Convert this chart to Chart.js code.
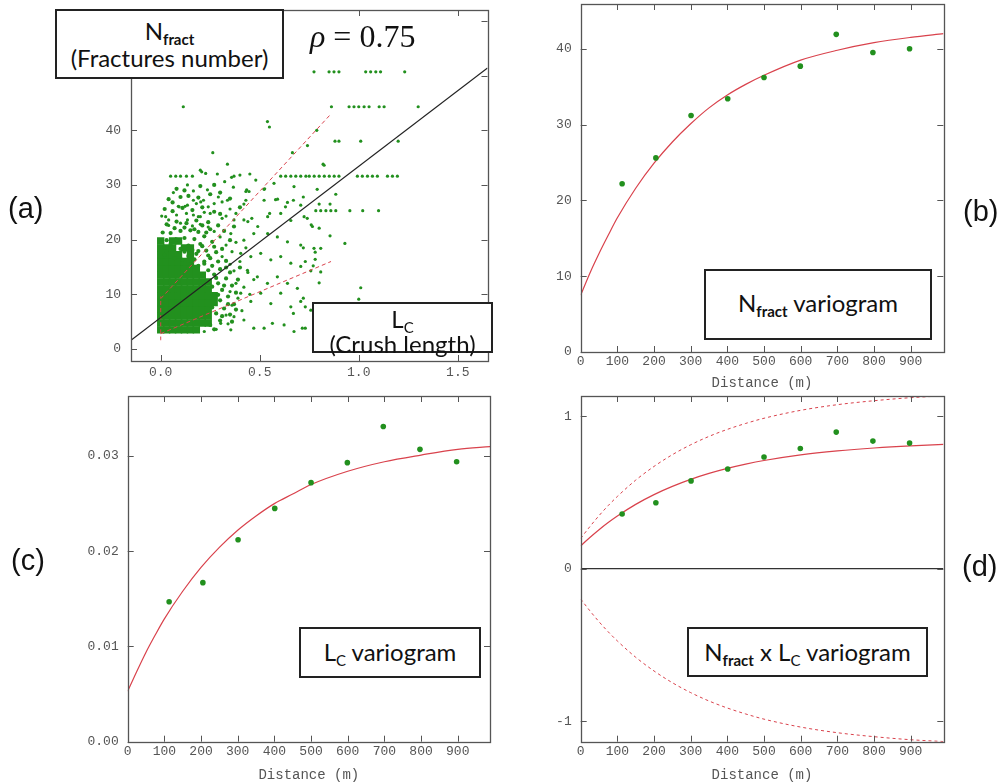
<!DOCTYPE html>
<html>
<head>
<meta charset="utf-8">
<script src="https://cdn.jsdelivr.net/npm/chart.js@4.4.1/dist/chart.umd.min.js"></script>
<style>
  body { margin: 0; background: #fff; }
  #page { position: relative; width: 1000px; height: 784px; overflow: hidden; }
  canvas { position: absolute; }
  .box {
    position: absolute; box-sizing: border-box; background: #fff;
    border: 2px solid #222; font-family: Lato, "Open Sans", sans-serif;
    color: #111; text-align: center; font-size: 24px;
  }
  .box sub { font-size: 15px; vertical-align: -5px; line-height: 0; }
  .box sub.b { font-weight: bold; }
  .tag { position: absolute; font-family: "Liberation Sans", Arial, sans-serif; font-size: 29px; color: #111; }
  .rho { position: absolute; font-family: "Liberation Serif", serif; font-size: 32px; color: #111; }
</style>
</head>
<body>
<div id="page">
  <canvas id="pa" width="500" height="392" style="left:0;top:0"></canvas>
  <canvas id="pb" width="500" height="392" style="left:500px;top:0"></canvas>
  <canvas id="pc" width="500" height="392" style="left:0;top:392px"></canvas>
  <canvas id="pd" width="500" height="392" style="left:500px;top:392px"></canvas>

  <div class="box" style="left:55px;top:9px;width:229px;height:70px;line-height:27px;padding-top:6px">
    N<sub class="b">fract</sub><br>(Fractures number)
  </div>
  <div class="rho" style="left:310px;top:18px"><i>ρ</i> = 0.75</div>
  <div class="box" style="left:312px;top:302px;width:181px;height:51px;line-height:25px;padding-top:2px">
    L<sub>C</sub><br>(Crush length)
  </div>
  <div class="box" style="left:704px;top:269px;width:228px;height:71px;line-height:64px">
    N<sub class="b">fract</sub> variogram
  </div>
  <div class="box" style="left:299px;top:627px;width:182px;height:51px;line-height:46px">
    L<sub>C</sub> variogram
  </div>
  <div class="box" style="left:687px;top:627px;width:241px;height:50px;line-height:45px">
    N<sub class="b">fract</sub> x L<sub>C</sub> variogram
  </div>

  <div class="tag" style="left:8px;top:192px">(a)</div>
  <div class="tag" style="left:963px;top:195px">(b)</div>
  <div class="tag" style="left:11px;top:544px">(c)</div>
  <div class="tag" style="left:962px;top:550px">(d)</div>
</div>

<script>
// ---- (a) N_fract vs L_C scatter ----
const xTicksA = [0, 0.5, 1, 1.5];
const yTicksA = [0, 10, 20, 30, 40, 50, 60];

// solid core of the cloud, one row of x values per N value
const coreY = [3.5, 4.75, 6, 7.25, 8.5, 9.75, 11, 12.25, 13.5, 14.75, 16, 17.25, 18.5, 19.75];
const coreX = [
  [0, 0.03, 0.06, 0.09, 0.12, 0.15, 0.18],
  [0, 0.03, 0.06, 0.09, 0.12, 0.15, 0.18, 0.21, 0.24],
  [0, 0.03, 0.06, 0.09, 0.12, 0.15, 0.18, 0.21, 0.24],
  [0, 0.03, 0.06, 0.09, 0.12, 0.15, 0.18, 0.21, 0.24],
  [0, 0.03, 0.06, 0.09, 0.12, 0.15, 0.18, 0.21, 0.24, 0.27],
  [0, 0.03, 0.06, 0.09, 0.12, 0.15, 0.18, 0.21, 0.24, 0.27],
  [0, 0.03, 0.06, 0.09, 0.12, 0.15, 0.18, 0.21, 0.24],
  [0, 0.03, 0.06, 0.09, 0.12, 0.15, 0.18, 0.21, 0.24],
  [0, 0.03, 0.06, 0.09, 0.12, 0.15, 0.18, 0.21],
  [0, 0.03, 0.06, 0.09, 0.12, 0.15, 0.18],
  [0, 0.03, 0.06, 0.09, 0.12, 0.15],
  [0, 0.03, 0.06, 0.09, 0.15],
  [0, 0.03, 0.06, 0.12, 0.15],
  [0, 0.06, 0.09]
];

// speckled zone around the core
const midA = [
  [0.27, 3.6], [0.3, 5.2], [0.28, 6.5], [0.32, 7.4], [0.3, 8.9], [0.34, 9.6], [0.31, 10.8], [0.36, 11.6],
  [0.29, 12.0], [0.33, 12.9], [0.27, 13.6], [0.3, 14.6], [0.35, 14.0], [0.38, 10.3], [0.37, 8.2], [0.35, 6.3],
  [0.39, 12.7], [0.26, 15.2], [0.4, 14.9], [0.33, 16.1], [0.24, 14.4], [0.22, 15.6],
  [0.15, 15.5], [0.19, 15.2], [0.22, 16.0], [0.25, 16.6], [0.14, 17.0], [0.18, 17.4], [0.23, 18.0], [0.28, 17.7],
  [0.02, 18.5], [0.06, 18.6], [0.1, 18.3], [0.14, 18.9], [0.2, 19.2], [0.26, 19.6], [0.03, 19.9], [0.08, 20.0],
  [0.12, 20.3], [0.17, 20.1], [0.22, 20.6], [0.01, 21.3], [0.05, 21.2], [0.1, 21.6], [0.15, 21.7], [0.19, 21.4],
  [0.25, 21.9], [0.03, 22.8], [0.08, 23.3], [0.13, 23.0], [0.18, 23.5], [0.24, 23.2], [0.29, 22.6], [0.02, 17.2],
  [0.07, 16.6], [0.11, 16.3], [0.16, 18.1], [0.12, 17.8], [0.05, 19.2],
  [0.02, 25.6], [0.06, 25.2], [0.11, 25.8], [0.16, 25.4], [0.21, 25.9], [0.27, 25.1], [0.04, 27.4], [0.1, 27.8],
  [0.14, 28.0], [0.19, 27.7], [0.25, 28.3], [0.3, 28.6], [0.08, 29.3], [0.12, 29.0], [0.2, 29.8], [0.27, 30.0],
  [0.25, 4.4], [0.26, 7.6], [0.29, 9.9], [0.26, 11.4], [0.28, 13.0], [0.32, 11.6], [0.34, 8.2], [0.31, 6.0],
  [0.36, 5.0], [0.38, 7.2], [0.33, 14.9], [0.29, 16.0], [0.24, 17.1], [0.27, 18.7], [0.21, 18.8], [0.19, 17.9],
  [0.17, 16.4], [0.31, 18.3], [0.35, 19.9], [0.23, 21.3], [0.07, 22.1], [0.12, 22.2], [0.17, 21.9], [0.21, 22.6],
  [0.32, 21.6], [0.37, 22.4], [0.3, 24.7], [0.35, 27.5], [0.4, 25.9], [0.06, 26.8]
];

// scattered samples further out
const scatterA = [
  [0.774, 50.7], [0.85, 50.7], [0.875, 50.7], [0.9, 50.7], [1.035, 50.7], [1.06, 50.7], [1.086, 50.7], [1.11, 50.7], [1.232, 50.7],
  [0.114, 44.3], [0.862, 44.3], [0.951, 44.3], [0.976, 44.3], [1.0, 44.3], [1.027, 44.3], [1.052, 44.3], [1.103, 44.3], [1.128, 44.3], [1.3, 44.3],
  [0.539, 41.6], [0.549, 40.6], [0.788, 40.0], [0.88, 38.0], [0.9, 38.0], [1.01, 38.0], [1.199, 38.0],
  [0.741, 37.2], [0.263, 35.9], [0.665, 35.9], [0.337, 33.8], [0.82, 33.8], [0.825, 33.6],
  [0.05, 31.6], [0.076, 31.6], [0.1, 31.6], [0.13, 31.6], [0.16, 31.6], [0.606, 31.6], [0.631, 31.6], [0.657, 31.6],
  [0.682, 31.6], [0.707, 31.6], [0.733, 31.6], [0.75, 31.6], [0.775, 31.6], [0.8, 31.6], [0.826, 31.6], [0.851, 31.6],
  [0.876, 31.6], [0.9, 31.6], [0.993, 31.6], [1.018, 31.6], [1.044, 31.6], [1.069, 31.6], [1.094, 31.6], [1.145, 31.6],
  [1.17, 31.6], [1.195, 31.6],
  [0.064, 28.6], [0.135, 30.0], [0.236, 29.1], [0.323, 30.6], [0.43, 28.8], [0.446, 28.8], [0.522, 29.2], [0.572, 30.3],
  [0.673, 29.7], [0.79, 29.2], [0.884, 28.3], [0.2, 32.7], [0.227, 32.1], [0.286, 32.0], [0.37, 31.6], [0.4, 31.8],
  [0.45, 32.0], [0.48, 30.9], [0.207, 32.4], [0.165, 28.9], [0.367, 29.6], [0.358, 31.4], [0.165, 27.2], [0.216, 27.2],
  [0.291, 27.8], [0.434, 29.1], [0.525, 29.3],
  [0.093, 26.0], [0.135, 26.3], [0.202, 26.9], [0.27, 26.6], [0.337, 27.2], [0.42, 26.5], [0.522, 27.2], [0.59, 27.4],
  [0.64, 26.8], [0.707, 26.3], [0.8, 26.5], [0.855, 26.5], [0.783, 25.3], [0.808, 25.3], [0.834, 25.3], [0.859, 25.3],
  [0.884, 25.3], [0.955, 25.3], [1.02, 25.3], [1.1, 25.3], [0.089, 26.1], [0.123, 26.1], [0.18, 26.6], [0.24, 26.0],
  [0.31, 26.9], [0.35, 25.6], [0.43, 27.2], [0.58, 27.3], [0.63, 26.0], [0.67, 27.2], [0.72, 27.8],
  [0.025, 24.2], [0.135, 23.6], [0.2, 24.2], [0.25, 24.8], [0.31, 23.9], [0.37, 23.6], [0.44, 23.3], [0.49, 22.4],
  [0.54, 24.2], [0.606, 24.8], [0.657, 23.5], [0.724, 24.2], [0.766, 22.4], [0.8, 22.1], [0.855, 20.7], [0.93, 19.3],
  [0.354, 21.1], [0.42, 19.9], [0.47, 21.1], [0.54, 21.1], [0.589, 20.5], [0.64, 19.6], [0.707, 19.0], [0.774, 18.4],
  [0.808, 18.4], [0.005, 24.3], [0.04, 23.6], [0.08, 24.5], [0.13, 24.8], [0.165, 24.5], [0.19, 24.2], [0.22, 25.0],
  [0.33, 24.3], [0.38, 24.8], [0.42, 23.6], [0.46, 23.9], [0.55, 24.8], [0.74, 23.9], [0.76, 22.7], [0.72, 18.5], [0.78, 17.7],
  [0.404, 17.5], [0.455, 16.9], [0.505, 17.5], [0.556, 16.3], [0.606, 16.9], [0.657, 15.7], [0.707, 15.1], [0.758, 14.3],
  [0.808, 14.1], [0.438, 14.4], [0.488, 13.2], [0.539, 12.0], [0.589, 13.2], [0.64, 12.0], [0.69, 11.1], [0.8, 12.1],
  [1.01, 11.2], [0.73, 16.0], [0.78, 16.4], [0.77, 15.2],
  [0.404, 10.2], [0.455, 8.7], [0.505, 10.2], [0.556, 8.3], [0.606, 10.2], [0.657, 7.7], [0.707, 8.7], [0.758, 7.1],
  [0.37, 5.9], [0.42, 5.3], [0.47, 3.8], [0.522, 3.8], [0.564, 4.7], [0.623, 4.4], [0.673, 3.2], [0.715, 3.8],
  [0.67, 6.5], [0.354, 3.5], [0.303, 4.7], [1.0, 9.1], [0.72, 9.3], [0.73, 7.7], [0.73, 3.8],
  [0.33, 6.2], [0.36, 8.0], [0.35, 10.5], [0.38, 12.0], [0.37, 14.3], [0.4, 16.0], [0.36, 17.8], [0.33, 19.0],
  [0.3, 20.5], [0.27, 21.5], [0.24, 22.3], [0.39, 9.3], [0.42, 11.3], [0.41, 7.0], [0.34, 4.6], [0.28, 3.6],
  [0.22, 3.2], [0.45, 10.0], [0.44, 14.0], [0.47, 12.7], [0.31, 16.9], [0.35, 15.5], [0.38, 19.5], [0.43, 18.5],
  [0.2, 22.8], [0.16, 22.5], [0.1, 23.0], [0.04, 22.6]
];

const fitA = [[-0.15, 1.6], [1.65, 51.4]];
const bandUpA = [[0, 9.2], [0.86, 43.0]];
const bandLowA = [[0, 2.8], [0.86, 16.0]];
const bandEdgeA = [[0, 1.6], [0, 9.6]];

// ---- variograms (b, c, d) ----
const xTicksV = [0, 100, 200, 300, 400, 500, 600, 700, 800, 900];
const yTicksB = [0, 10, 20, 30, 40];
const yTicksC = [0, 0.01, 0.02, 0.03];
const yTicksD = [-1, 0, 1];

const lags = [113, 205, 301, 401, 500, 599, 697, 797, 897];
const nfractGamma = [22.2, 25.6, 31.2, 33.4, 36.2, 37.7, 41.9, 39.5, 40.0];
const lcGamma = [0.0147, 0.0167, 0.0212, 0.0245, 0.0272, 0.0293, 0.0331, 0.0307, 0.0294];
const crossGamma = [0.359, 0.433, 0.576, 0.654, 0.733, 0.789, 0.896, 0.837, 0.824];

const modelH = [0, 25, 50, 75, 100, 150, 200, 250, 300, 350, 400, 450, 500, 600, 700, 800, 900, 990];
const nfractModel = [7.5, 10.4, 13.0, 15.4, 17.7, 21.6, 24.9, 27.7, 30.1, 32.2, 33.9, 35.3, 36.5, 38.5, 39.8, 40.8, 41.5, 42.0];
const lcModel = [0.0053, 0.0074, 0.0094, 0.0112, 0.0129, 0.0158, 0.0183, 0.0204, 0.0222, 0.0237, 0.0250, 0.0260, 0.0270, 0.0284, 0.0294, 0.0301, 0.0307, 0.0310];
const crossModel = [0.150, 0.205, 0.256, 0.303, 0.346, 0.422, 0.486, 0.540, 0.586, 0.625, 0.658, 0.686, 0.710, 0.747, 0.773, 0.792, 0.806, 0.815];
const crossUpper = [0.199, 0.276, 0.348, 0.414, 0.474, 0.581, 0.671, 0.748, 0.813, 0.868, 0.914, 0.953, 0.987, 1.039, 1.076, 1.102, 1.122, 1.134];
const crossLower = [-0.199, -0.276, -0.348, -0.414, -0.474, -0.581, -0.671, -0.748, -0.813, -0.868, -0.914, -0.953, -0.987, -1.039, -1.076, -1.102, -1.122, -1.134];
const zeroLine = [[0, 0], [990, 0]];

const GREEN = "#22901e";
const RED = "#d9424c";
const AXIS = "#555";
const MONO = "'Liberation Mono', 'DejaVu Sans Mono', monospace";

const xy = (pairs) => pairs.map((p) => ({ x: p[0], y: p[1] }));
const zip = (xs, ys) => xs.map((x, i) => ({ x: x, y: ys[i] }));

// gnuplot-like frame with inward ticks on all four sides
const framePlugin = {
  id: "frame",
  afterDatasetsDraw(chart) {
    const { ctx, chartArea: a, scales } = chart;
    ctx.save();
    ctx.strokeStyle = AXIS;
    ctx.lineWidth = 1;
    ctx.beginPath();
    scales.x.ticks.forEach((t) => {
      const px = Math.round(scales.x.getPixelForValue(t.value)) + 0.5;
      ctx.moveTo(px, a.bottom); ctx.lineTo(px, a.bottom - 6);
      ctx.moveTo(px, a.top); ctx.lineTo(px, a.top + 6);
    });
    scales.y.ticks.forEach((t) => {
      const py = Math.round(scales.y.getPixelForValue(t.value)) + 0.5;
      ctx.moveTo(a.left, py); ctx.lineTo(a.left + 6, py);
      ctx.moveTo(a.right, py); ctx.lineTo(a.right - 6, py);
    });
    ctx.stroke();
    ctx.lineWidth = 1.3;
    ctx.strokeRect(Math.round(a.left) + 0.5, Math.round(a.top) + 0.5, Math.round(a.right - a.left), Math.round(a.bottom - a.top));
    ctx.restore();
  },
};

function axis(min, max, tickVals, fmt, fitSize, pad, title) {
  return {
    type: "linear",
    min: min,
    max: max,
    afterBuildTicks: (s) => { s.ticks = tickVals.map((v) => ({ value: v })); },
    afterFit: (s) => {
      if (s.isHorizontal()) s.height = fitSize; else s.width = fitSize;
      // keep the plot frame exactly where the layout padding puts it
      s.paddingTop = 0; s.paddingBottom = 0; s.paddingLeft = 0; s.paddingRight = 0;
    },
    grid: { display: false, drawTicks: false },
    border: { display: false },
    ticks: { color: AXIS, font: { family: MONO, size: 13 }, padding: pad, maxRotation: 0, autoSkip: false, callback: fmt },
    title: title ? { display: true, text: title, color: AXIS, font: { family: MONO, size: 14 }, padding: { top: 0, bottom: 0.6 } } : { display: false },
  };
}

function makeChart(id, datasets, xAxis, yAxis, padding) {
  const ctx = document.getElementById(id).getContext("2d");
  return new Chart(ctx, {
    type: "scatter",
    data: { datasets: datasets },
    options: {
      responsive: false,
      animation: false,
      layout: { padding: padding },
      plugins: { legend: { display: false }, tooltip: { enabled: false } },
      scales: { x: xAxis, y: yAxis },
    },
    plugins: [framePlugin],
  });
}

const line = (data, color, dash, width) => ({
  data: data, showLine: true, pointRadius: 0, borderColor: color, borderWidth: width || 1.2,
  borderDash: dash || [], fill: false, cubicInterpolationMode: "monotone",
});
const dots = (data, r, style) => ({
  data: data, showLine: false, pointRadius: r, pointStyle: style || "circle",
  pointBackgroundColor: GREEN, pointBorderWidth: 0, borderColor: GREEN,
});

// (a)
const coreA = [];
coreY.forEach((y, i) => coreX[i].forEach((x) => coreA.push({ x: x, y: y })));

makeChart("pa", [
  line(xy(fitA), "#222", [], 1.1),
  line(xy(bandUpA), RED, [4, 3], 1),
  line(xy(bandLowA), RED, [4, 3], 1),
  line(xy(bandEdgeA), RED, [4, 3], 1),
  dots(xy(scatterA), 1.6),
  dots(xy(midA), 2.1),
  dots(coreA, 5.2, "rect"),
],
  axis(-0.15, 1.65, xTicksA, (v) => v.toFixed(1), 31, 4, ""),
  axis(-2.2, 62, yTicksA, (v) => (v > 40 ? "" : String(v)), 131, 10, null),
  { left: 0, right: 12.5, top: 10, bottom: 0 });

// (b)
makeChart("pb", [
  dots(zip(lags, nfractGamma), 2.8),
  line(zip(modelH, nfractModel), RED),
], axis(0, 989, xTicksV, (v) => String(v), 40, 2, "Distance (m)"),
  axis(0, 45.9, yTicksB, (v) => String(v), 80.7, 9, null),
  { left: 0, right: 56.7, top: 4, bottom: 0 });

// (c)
makeChart("pc", [
  dots(zip(lags, lcGamma), 2.8),
  line(zip(modelH, lcModel), RED),
], axis(0, 988, xTicksV, (v) => String(v), 42.3, 2, "Distance (m)"),
  axis(0, 0.0363, yTicksC, (v) => v.toFixed(2), 127.7, 9, null),
  { left: 0, right: 10, top: 2, bottom: 0 });

// (d)
makeChart("pd", [
  dots(zip(lags, crossGamma), 2.8),
  line(zip(modelH, crossModel), RED),
  line(zip(modelH, crossUpper), RED, [3, 3], 1),
  line(zip(modelH, crossLower), RED, [3, 3], 1),
  line(xy(zeroLine), "#333", [], 1.2),
], axis(0, 989, xTicksV, (v) => String(v), 42.3, 2, "Distance (m)"),
  axis(-1.135, 1.133, yTicksD, (v) => String(v), 80.7, 9, null),
  { left: 0, right: 56.7, top: 2, bottom: 0 });
</script>
</body>
</html>
